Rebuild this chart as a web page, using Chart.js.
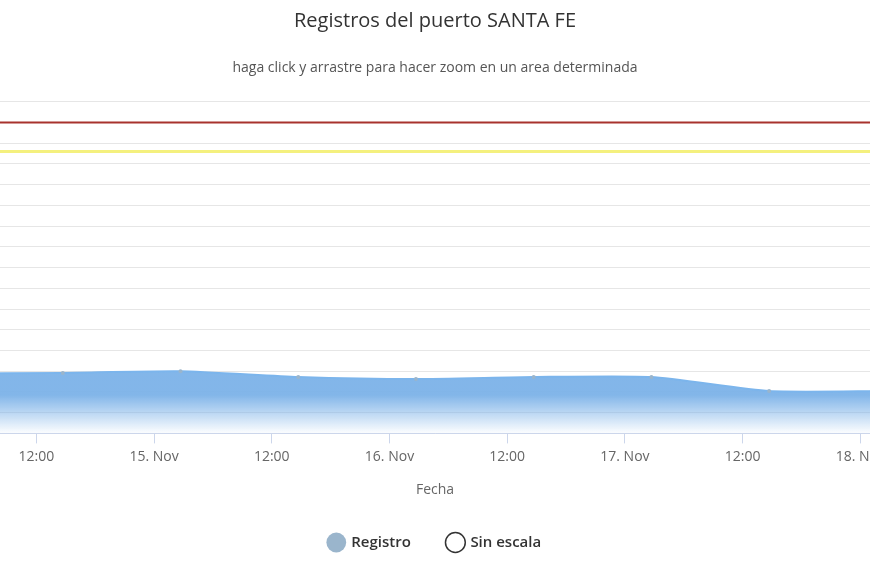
<!DOCTYPE html>
<html><head><meta charset="utf-8">
<script src="https://cdn.jsdelivr.net/npm/chart.js@4/dist/chart.umd.min.js"></script>
<style>html,body{margin:0;background:#fff;overflow:hidden}
#outer{width:870px;height:580px;overflow:hidden;position:relative}
#wrap{position:absolute;left:-50px;top:0;width:970px;height:580px}</style>
</head><body><div id="outer"><div id="wrap"><canvas id="c"></canvas></div></div>
<script>
// hours since 14 Nov 00:00
const regHours  = [2.7, 14.7, 26.7, 38.7, 50.7, 62.7, 74.7, 86.7, 98.7];
const regValues = [1.44, 1.46, 1.5, 1.36, 1.31, 1.36, 1.36, 1.02, 1.02];
const alertLevel = 7.5;   // red
const evacLevel  = 6.8;   // yellow
const xMin = 3.61, xMax = 101.67;
const tickHours = [12, 24, 36, 48, 60, 72, 84, 96];
const dayNames = {24:'15. Nov', 48:'16. Nov', 72:'17. Nov', 96:'18. Nov'};

const ctx = document.getElementById('c').getContext('2d');
const grad = ctx.createLinearGradient(0, 395, 0, 432);
grad.addColorStop(0, 'rgba(124,178,232,0.95)');
grad.addColorStop(1, 'rgba(124,178,232,0.05)');
const font = {family: 'Open Sans, DejaVu Sans', size: 14};

new Chart(ctx, {
  type: 'line',
  data: {
    datasets: [
      { label: 'Registro', data: regHours.map((h,i)=>({x:h,y:regValues[i]})),
        borderColor: '#7cb5ec', backgroundColor: '#7cb5ec', borderWidth: 2,
        fill: {target: 'origin', above: grad}, pointRadius: 2, pointBackgroundColor: '#9ab5cc',
        pointBorderWidth: 0, tension: 0.2 },
      { label: 'Sin escala', data: [], borderColor: '#333', backgroundColor: '#fff', borderWidth: 1.5 },
      { label: 'alerta', data: [{x:0,y:alertLevel},{x:110,y:alertLevel}],
        borderColor: '#a8322d', borderWidth: 2, pointRadius: 0 },
      { label: 'evac', data: [{x:0,y:evacLevel},{x:110,y:evacLevel}],
        borderColor: '#f4f07e', borderWidth: 3, pointRadius: 0 }
    ]
  },
  options: {
    responsive: true, maintainAspectRatio: false, animation: false,
    layout: { padding: {left: 0, right: 0, top: 9, bottom: 20} },
    plugins: {
      title: { display: true, text: 'Registros del puerto SANTA FE', color: '#333',
               font: {family: 'Open Sans, DejaVu Sans', size: 20, weight: 'normal'}, padding: {top: 0, bottom: 27} },
      subtitle: { display: true, text: 'haga click y arrastre para hacer zoom en un area determinada',
               color: '#555', font: {family: 'Open Sans, DejaVu Sans', size: 14}, padding: {bottom: 25} },
      legend: { position: 'bottom',
        labels: { usePointStyle: true, pointStyle: 'circle', boxHeight: 14, padding: 37, color: '#333',
                  font: {family: 'Open Sans, DejaVu Sans', size: 15, weight: '600'},
                  filter: it => it.text === 'Registro' || it.text === 'Sin escala' } },
      tooltip: { enabled: false }
    },
    scales: {
      x: { type: 'linear', min: xMin, max: xMax,
        afterBuildTicks: ax => { ax.ticks = tickHours.map(v => ({value: v})); },
        ticks: { color: '#666', font, padding: 5, autoSkip: false, maxRotation: 0,
                 callback: v => dayNames[v] || '12:00' },
        grid: { display: true, drawOnChartArea: false, tickLength: 10, color: '#ccd6eb' },
        border: { color: '#ccd6eb' },
        title: { display: true, text: 'Fecha', color: '#666', font, padding: {top: 11, bottom: 0} } },
      y: { min: 0, max: 8, ticks: { display: false, stepSize: 0.5 },
        grid: { color: '#e6e6e6', drawTicks: false }, border: { display: false } }
    }
  }
});
</script></body></html>
